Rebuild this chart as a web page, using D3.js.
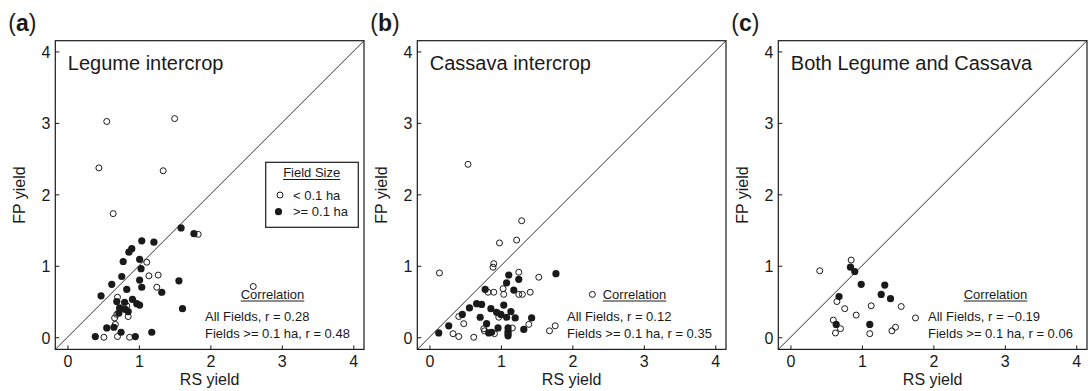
<!DOCTYPE html>
<html>
<head>
<meta charset="utf-8">
<script src="https://cdn.jsdelivr.net/npm/d3@7"></script>
<style>
	body { margin: 0; background: white; }
	svg text { font-family: "Liberation Sans", Arial, sans-serif; fill: #1a1a1a; }
</style>
</head>
<body>
<svg id="chart" width="1090" height="391"></svg>
<script>
//****************************************************************************************************************************//
// Data

var panelLetters = ["a", "b", "c"];
var panelTitles = ["Legume intercrop", "Cassava intercrop", "Both Legume and Cassava"];
var axisTicks = [0, 1, 2, 3, 4];
var allFieldsR = ["0.28", "0.12", "\u22120.19"];
var largeFieldsR = ["0.48", "0.35", "0.06"];
var legendLabels = ["< 0.1 ha", ">= 0.1 ha"];

// [RS yield, FP yield], fields < 0.1 ha (open) and >= 0.1 ha (filled)
var legumeSmall = [[0.55,3.02],[1.50,3.06],[0.44,2.37],[1.34,2.33],[0.64,1.73],[1.83,1.44],[1.11,1.05],[1.14,0.86],
	[1.27,0.87],[1.25,0.70],[2.60,0.71],[0.70,0.56],[0.83,0.44],[0.69,0.32],[0.85,0.29],[0.66,0.27],[0.67,0.18],
	[0.51,0.00],[0.70,0.01],[0.87,0.00]];
var legumeLarge = [[1.59,1.53],[1.77,1.45],[1.04,1.35],[1.21,1.33],[0.90,1.24],[0.86,1.19],[0.78,1.06],[1.01,1.09],
	[1.03,0.96],[0.76,0.85],[1.56,0.79],[1.01,0.80],[0.62,0.74],[1.04,0.70],[0.83,0.67],[1.32,0.63],[0.47,0.58],
	[0.91,0.53],[0.69,0.50],[0.80,0.49],[0.97,0.47],[1.01,0.45],[1.61,0.40],[0.73,0.41],[0.81,0.39],[0.85,0.36],
	[0.72,0.34],[0.55,0.13],[0.65,0.14],[0.75,0.07],[1.18,0.07],[0.39,0.01],[0.95,0.01]];

var cassavaSmall = [[0.54,2.42],[1.29,1.63],[0.98,1.32],[1.22,1.36],[0.90,1.03],[0.89,0.98],[0.14,0.90],[1.25,0.91],
	[1.53,0.84],[1.03,0.68],[0.82,0.63],[0.90,0.63],[1.04,0.60],[1.25,0.60],[1.30,0.60],[1.41,0.63],[2.28,0.60],
	[0.41,0.29],[0.97,0.28],[0.48,0.19],[1.39,0.18],[1.76,0.16],[1.68,0.09],[0.76,0.12],[0.77,0.09],[1.16,0.13],
	[0.33,0.05],[0.41,0.01],[0.62,0.00],[0.91,0.05]];
var cassavaLarge = [[1.77,0.89],[1.11,0.87],[1.25,0.81],[1.08,0.76],[0.78,0.67],[1.18,0.66],[0.66,0.47],[0.73,0.46],
	[0.56,0.41],[1.04,0.45],[0.86,0.40],[0.94,0.35],[1.00,0.32],[1.14,0.36],[0.46,0.32],[0.71,0.28],[1.08,0.28],
	[1.20,0.27],[1.43,0.27],[0.80,0.19],[0.27,0.16],[0.96,0.13],[0.87,0.07],[0.83,0.06],[1.10,0.13],[1.10,0.08],
	[1.10,0.05],[1.10,0.02],[1.32,0.11],[0.13,0.06]];

var bothSmall = [[0.41,0.93],[0.85,1.08],[0.65,0.50],[0.76,0.40],[1.13,0.44],[1.55,0.43],[0.92,0.31],[1.75,0.27],
	[0.60,0.24],[0.70,0.12],[0.63,0.06],[1.11,0.05],[1.42,0.09],[1.47,0.14]];
var bothLarge = [[0.84,0.98],[0.90,0.92],[0.99,0.74],[1.32,0.73],[1.27,0.60],[1.40,0.54],[0.68,0.57],[0.64,0.18],
	[1.11,0.18]];

var smallFields = [legumeSmall, cassavaSmall, bothSmall];
var largeFields = [legumeLarge, cassavaLarge, bothLarge];

//****************************************************************************************************************************//
// Layout

var canvas = d3.select("#chart");
var plotSize = 308.7, plotTop = 40.7;
var panelLeft = [55.3, 417.3, 778.3];
var axisDomain = [-0.17, 4.15];
var ink = "#1a1a1a";

function underline(sel, g){
	var node = sel.node();
	var len = node.getComputedTextLength();
	var x0 = +sel.attr("x"), y0 = +sel.attr("y");
	var anchor = sel.attr("text-anchor");
	var start = anchor == "middle" ? x0 - len/2 : x0;
	g.append("line")
		.attr("x1", start)
		.attr("x2", start + len)
		.attr("y1", y0 + 2.5)
		.attr("y2", y0 + 2.5)
		.attr("stroke", ink)
		.attr("stroke-width", 1);
}

function drawPanel(i){
	var left = panelLeft[i];
	var right = left + plotSize;
	var bottom = plotTop + plotSize;

	var xScale = d3.scaleLinear()
					.domain(axisDomain)
					.range([left, right]);
	var yScale = d3.scaleLinear()
					.domain(axisDomain)
					.range([bottom, plotTop]);

	var panel = canvas.append("g").attr("class", "panel");

	// panel letter
	var letter = panel.append("text")
					.attr("x", left - 47)
					.attr("y", 31)
					.style("font-size", "23px");
	letter.append("tspan").text("(");
	letter.append("tspan").style("font-weight", "bold").text(panelLetters[i]);
	letter.append("tspan").text(")");

	// axes
	var xAxis = d3.axisBottom(xScale)
					.tickValues(axisTicks)
					.tickFormat(d3.format("d"))
					.tickSizeInner(-4)
					.tickSizeOuter(0)
					.tickPadding(6);
	var yAxis = d3.axisLeft(yScale)
					.tickValues(axisTicks)
					.tickFormat(d3.format("d"))
					.tickSizeInner(-4)
					.tickSizeOuter(0)
					.tickPadding(5);

	var xg = panel.append("g")
					.attr("transform", "translate(0," + bottom + ")")
					.call(xAxis);
	var yg = panel.append("g")
					.attr("transform", "translate(" + left + ",0)")
					.call(yAxis);

	[xg, yg].forEach(function(g){
		g.attr("font-family", null).attr("font-size", null);
		g.select(".domain").remove();
		g.selectAll(".tick line").attr("stroke", ink);
		g.selectAll(".tick text").style("font-size", "16px").attr("fill", ink);
	});
	yg.selectAll(".tick text").attr("dy", "0.38em");

	panel.append("text")
			.attr("x", (left + right)/2)
			.attr("y", 385)
			.attr("text-anchor", "middle")
			.style("font-size", "16px")
			.text("RS yield");

	panel.append("text")
			.attr("transform", "translate(" + (left - 30.5) + "," + ((plotTop + bottom)/2) + ") rotate(-90)")
			.attr("text-anchor", "middle")
			.style("font-size", "16px")
			.text("FP yield");

	// frame and 1:1 line
	panel.append("rect")
			.attr("x", left)
			.attr("y", plotTop)
			.attr("width", plotSize)
			.attr("height", plotSize)
			.attr("fill", "none")
			.attr("stroke", ink)
			.attr("stroke-width", 1.2);

	panel.append("line")
			.attr("x1", xScale(axisDomain[0]))
			.attr("y1", yScale(axisDomain[0]))
			.attr("x2", xScale(axisDomain[1]))
			.attr("y2", yScale(axisDomain[1]))
			.attr("stroke", "#333")
			.attr("stroke-width", 1);

	// title
	panel.append("text")
			.attr("x", left + 12.5)
			.attr("y", plotTop + 29)
			.style("font-size", "20px")
			.text(panelTitles[i]);

	// points
	panel.append("g").selectAll("circle")
			.data(smallFields[i])
			.enter().append("circle")
			.attr("cx", function(d){ return xScale(d[0]); })
			.attr("cy", function(d){ return yScale(d[1]); })
			.attr("r", 3)
			.attr("fill", "none")
			.attr("stroke", ink)
			.attr("stroke-width", 1);

	panel.append("g").selectAll("circle")
			.data(largeFields[i])
			.enter().append("circle")
			.attr("cx", function(d){ return xScale(d[0]); })
			.attr("cy", function(d){ return yScale(d[1]); })
			.attr("r", 3.6)
			.attr("fill", ink);

	// correlation block
	var corr = panel.append("g");
	var corrTitle = corr.append("text")
			.attr("x", right - 91.5)
			.attr("y", 298.5)
			.attr("text-anchor", "middle")
			.style("font-size", "13px")
			.text("Correlation");
	underline(corrTitle, corr);

	corr.append("text")
			.attr("x", right - 159)
			.attr("y", 320.5)
			.style("font-size", "13px")
			.text("All Fields, r = " + allFieldsR[i]);
	corr.append("text")
			.attr("x", right - 159)
			.attr("y", 338.3)
			.style("font-size", "13px")
			.text("Fields >= 0.1 ha, r = " + largeFieldsR[i]);

	return {left: left, right: right, panel: panel};
}

var panels = [0, 1, 2].map(drawPanel);

//****************************************************************************************************************************//
// Legend (panel a)

var lp = panels[0];
var legend = lp.panel.append("g");
legend.append("rect")
		.attr("x", lp.right - 98.3)
		.attr("y", 162.3)
		.attr("width", 92.6)
		.attr("height", 65)
		.attr("fill", "white")
		.attr("stroke", ink)
		.attr("stroke-width", 1.2);

var legTitle = legend.append("text")
		.attr("x", lp.right - 52.3)
		.attr("y", 177)
		.attr("text-anchor", "middle")
		.style("font-size", "13px")
		.text("Field Size");
underline(legTitle, legend);

legend.append("circle")
		.attr("cx", lp.right - 84)
		.attr("cy", 195)
		.attr("r", 3)
		.attr("fill", "none")
		.attr("stroke", ink);
legend.append("circle")
		.attr("cx", lp.right - 85.5)
		.attr("cy", 211.7)
		.attr("r", 3.6)
		.attr("fill", ink);

legend.selectAll("text.item")
		.data(legendLabels)
		.enter().append("text")
		.attr("class", "item")
		.attr("x", lp.right - 71)
		.attr("y", function(d, k){ return 199.5 + k*16.5; })
		.style("font-size", "13px")
		.text(function(d){ return d; });
</script>
</body>
</html>
